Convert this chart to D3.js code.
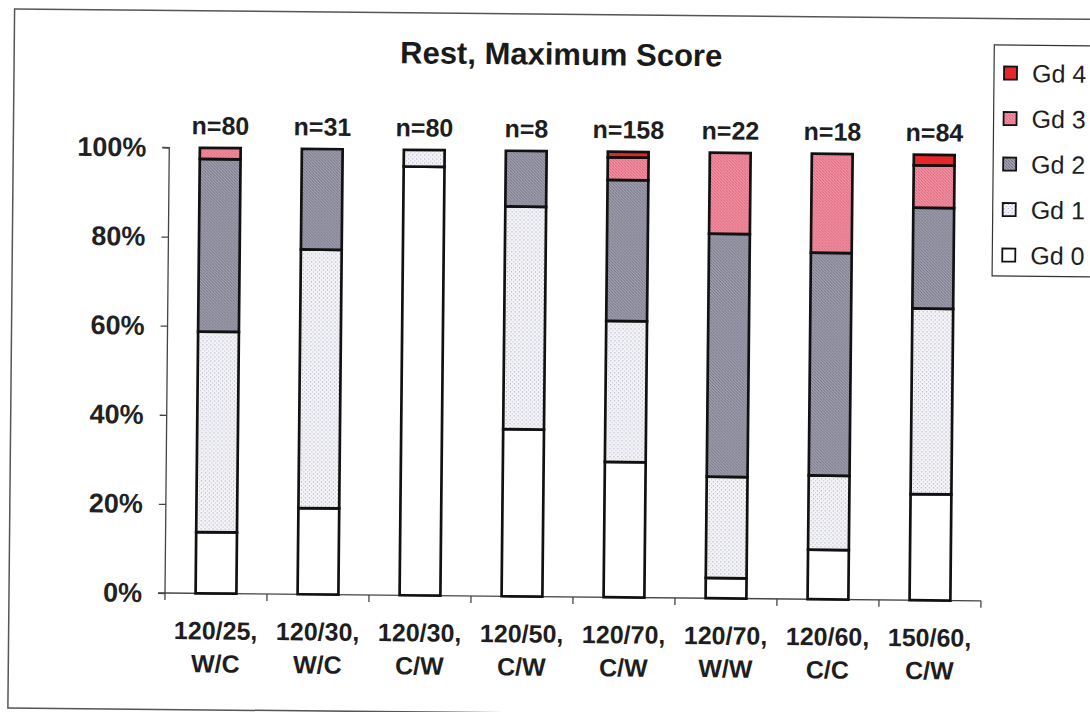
<!DOCTYPE html>
<html>
<head>
<meta charset="utf-8">
<script src="https://cdn.jsdelivr.net/npm/d3@7"></script>
<style>
  html, body { margin: 0; padding: 0; background: #fff; }
  svg { display: block; font-family: "Liberation Sans", Arial, sans-serif; }
</style>
</head>
<body>
<svg id="chart" width="1090" height="712"></svg>
<script>
// ---- data ----
const catLine1 = ["120/25,", "120/30,", "120/30,", "120/50,", "120/70,", "120/70,", "120/60,", "150/60,"];
const catLine2 = ["W/C", "W/C", "C/W", "C/W", "C/W", "W/W", "C/C", "C/W"];
const nLabels = ["n=80", "n=31", "n=80", "n=8", "n=158", "n=22", "n=18", "n=84"];
const gd0 = [13.75, 19.35, 96.25, 37.5, 30.38, 4.55, 11.11, 23.81];
const gd1 = [45.0, 58.06, 3.75, 50.0, 31.65, 22.73, 16.67, 41.67];
const gd2 = [38.75, 22.58, 0, 12.5, 31.65, 54.55, 50.0, 22.62];
const gd3 = [2.5, 0, 0, 0, 5.06, 18.18, 22.22, 9.52];
const gd4 = [0, 0, 0, 0, 1.27, 0, 0, 2.38];
const seriesNames = ["Gd 0", "Gd 1", "Gd 2", "Gd 3", "Gd 4"];
const yTicks = [0, 20, 40, 60, 80, 100];
const titleText = "Rest, Maximum Score";

// ---- layout ----
const svg = d3.select("#chart");
const W = 1090, H = 712;
const x0 = 165, x1 = 981, yBottom = 593, yTop = 147.5;

const defs = svg.append("defs");
// Gd1: light stipple
const p1 = defs.append("pattern").attr("id", "pGd1").attr("patternUnits", "userSpaceOnUse").attr("width", 4).attr("height", 4);
p1.append("rect").attr("width", 4).attr("height", 4).attr("fill", "#f3f3f7");
p1.append("rect").attr("x", 0).attr("y", 0).attr("width", 1).attr("height", 1).attr("fill", "#9c9cb2");
p1.append("rect").attr("x", 2).attr("y", 2).attr("width", 1).attr("height", 1).attr("fill", "#bcbccc");
// Gd2: gray crosshatch
const p2 = defs.append("pattern").attr("id", "pGd2").attr("patternUnits", "userSpaceOnUse").attr("width", 3).attr("height", 3);
p2.append("rect").attr("width", 3).attr("height", 3).attr("fill", "#a2a1b0");
p2.append("rect").attr("x", 0).attr("y", 0).attr("width", 1).attr("height", 1).attr("fill", "#6a697c");
p2.append("rect").attr("x", 1).attr("y", 1).attr("width", 1).attr("height", 1).attr("fill", "#78778a");
p2.append("rect").attr("x", 2).attr("y", 2).attr("width", 1).attr("height", 1).attr("fill", "#6a697c");
// Gd3: pink crosshatch
const p3 = defs.append("pattern").attr("id", "pGd3").attr("patternUnits", "userSpaceOnUse").attr("width", 3).attr("height", 3);
p3.append("rect").attr("width", 3).attr("height", 3).attr("fill", "#f095a5");
p3.append("rect").attr("x", 0).attr("y", 0).attr("width", 1).attr("height", 1).attr("fill", "#d9546e");
p3.append("rect").attr("x", 1).attr("y", 1).attr("width", 1).attr("height", 1).attr("fill", "#e26a80");
p3.append("rect").attr("x", 2).attr("y", 2).attr("width", 1).attr("height", 1).attr("fill", "#d9546e");

const fills = ["#ffffff", "url(#pGd1)", "url(#pGd2)", "url(#pGd3)", "#e5262a"];

svg.append("rect").attr("width", W).attr("height", H).attr("fill", "#fff");

const root = svg.append("g").attr("transform", "rotate(0.55,165,593)");

// outer frame
root.append("rect").attr("x", 9).attr("y", 10.5).attr("width", 1200).attr("height", 699)
  .attr("fill", "none").attr("stroke", "#555").attr("stroke-width", 1.5);

const x = d3.scaleBand().domain(d3.range(catLine1.length)).range([x0, x1]).paddingInner(0.6).paddingOuter(0.3);
const y = d3.scaleLinear().domain([0, 100]).range([yBottom, yTop]);

// title
root.append("text").attr("x", 556).attr("y", 61).attr("text-anchor", "middle")
  .attr("font-size", 31).attr("font-weight", "bold").attr("fill", "#1a1a1a").text(titleText);

// y axis
const yAxis = root.append("g").attr("transform", `translate(${x0},0)`)
  .call(d3.axisLeft(y).tickValues(yTicks).tickSize(7).tickPadding(16).tickFormat(d => d + "%"));
yAxis.selectAll("path, line").attr("stroke", "#444").attr("stroke-width", 1.3);
yAxis.select(".domain").attr("d", `M-7,${y(100)}H0V${y(0)}H-7`);
yAxis.selectAll("text").attr("font-size", 27).attr("font-weight", "bold").attr("fill", "#222")
  .attr("font-family", "'Liberation Sans', Arial, sans-serif");

// x axis
const stepPad = (x.step() - x.bandwidth()) / 2;
const bounds = catLine1.map((c, i) => x(i) - stepPad).concat([x(catLine1.length - 1) + x.bandwidth() + stepPad]);
const xAxis = root.append("g").attr("transform", `translate(0,${yBottom})`)
  .call(d3.axisBottom(x).tickSize(0).tickFormat(""));
xAxis.select(".domain").attr("stroke", "#444").attr("stroke-width", 1.3).attr("d", `M${x0},0H${x1}`);
xAxis.selectAll(".tick").remove();
xAxis.selectAll("line.bnd").data(bounds).enter().append("line").attr("class", "bnd")
  .attr("x1", d => d).attr("x2", d => d).attr("y1", 0).attr("y2", 7)
  .attr("stroke", "#444").attr("stroke-width", 1.3);

// x labels
const xl = root.append("g");
catLine1.forEach((c, i) => {
  const t = xl.append("text").attr("text-anchor", "middle").attr("font-size", 25).attr("font-weight", "bold").attr("fill", "#1e1e1e");
  t.append("tspan").attr("x", x(i) + x.bandwidth() / 2).attr("y", 639).text(c);
  t.append("tspan").attr("x", x(i) + x.bandwidth() / 2).attr("y", 672).text(catLine2[i]);
});

// stacked bars
const rows = catLine1.map((c, i) => ({ i, v: [gd0[i], gd1[i], gd2[i], gd3[i], gd4[i]] }));
const bars = root.append("g");
rows.forEach(r => {
  let cum = 0;
  r.v.forEach((v, s) => {
    if (v > 0) {
      bars.append("rect")
        .attr("x", x(r.i)).attr("width", x.bandwidth())
        .attr("y", y(cum + v)).attr("height", y(cum) - y(cum + v))
        .attr("fill", fills[s]).attr("stroke", "#111").attr("stroke-width", 2.7);
    }
    cum += v;
  });
});

// n labels
root.append("g").selectAll("text").data(nLabels).enter().append("text")
  .attr("x", (d, i) => x(i) + x.bandwidth() / 2).attr("y", 134)
  .attr("text-anchor", "middle").attr("font-size", 25).attr("font-weight", "bold").attr("fill", "#1e1e1e")
  .text(d => d);

// legend
const lg = root.append("g");
lg.append("rect").attr("x", 989).attr("y", 37).attr("width", 200).attr("height", 231)
  .attr("fill", "#fff").attr("stroke", "#333").attr("stroke-width", 1.2);
const legOrder = [4, 3, 2, 1, 0];
legOrder.forEach((s, k) => {
  const cy = 65 + k * 45.5;
  lg.append("rect").attr("x", 999).attr("y", cy - 6.5).attr("width", 13).attr("height", 13)
    .attr("fill", fills[s]).attr("stroke", "#111").attr("stroke-width", 1.8);
  lg.append("text").attr("x", 1027).attr("y", cy + 9).attr("font-size", 25).attr("fill", "#1e1e1e")
    .text(seriesNames[s]);
});
</script>
</body>
</html>
